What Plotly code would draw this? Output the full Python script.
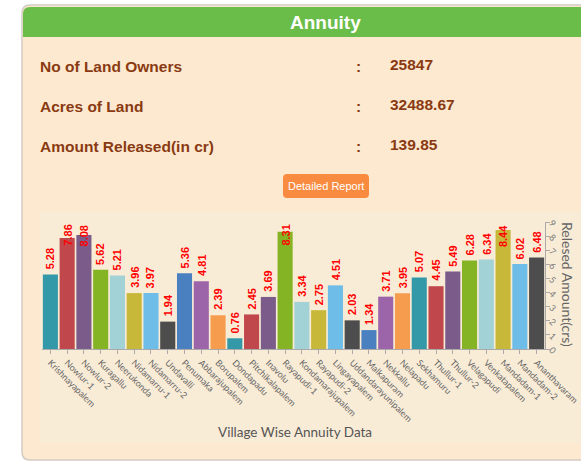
import plotly.graph_objects as go

# ---------------- data ----------------
villages = ["Krishnayapalem", "Nowlur-1", "Nowlur-2", "Kuragallu", "Neerukonda",
            "Nidamarru-1", "Nidamarru-2", "Undavalli", "Penumaka", "Abbarajupalem",
            "Borupalem", "Dondapadu", "Pitchikalapalem", "Inavolu", "Rayapudi-1",
            "Kondamarajupalem", "Rayapudi-2", "Lingayapalem", "Uddandarayunipalem",
            "Malkapuram", "Nekkallu", "Nelapadu", "Sekhamuru", "Thullur-1",
            "Thullur-2", "Velagapudi", "Venkatapalem", "Mandadam-1", "Mandadam-2",
            "Ananthavaram"]
amounts = [5.28, 7.86, 8.08, 5.62, 5.21, 3.96, 3.97, 1.94, 5.36, 4.81,
           2.39, 0.76, 2.45, 3.69, 8.31, 3.34, 2.75, 4.51, 2.03, 1.34,
           3.71, 3.95, 5.07, 4.45, 5.49, 6.28, 6.34, 8.44, 6.02, 6.48]
y_ticks = [0, 1, 2, 3, 4, 5, 6, 7, 8, 9]

info_labels = ["No of Land Owners", "Acres of Land", "Amount Released(in cr)"]
info_values = ["25847", "32488.67", "139.85"]

palette = ["#3399a8", "#c0474b", "#7b5b8a", "#84b423", "#a2d2d6", "#c8b83a",
           "#6ebde9", "#4d4d4d", "#4a80c0", "#9c64a9", "#f69c4f"]
bar_colors = [palette[i % len(palette)] for i in range(len(villages))]

# ---------------- layout geometry (page pixels) ----------------
W, H = 581, 461
PLOT_L, PLOT_R, PLOT_T, PLOT_B = 42, 545, 222, 349
L, T = PLOT_L, PLOT_T
R = W - PLOT_R
B = H - PLOT_B
PW = PLOT_R - PLOT_L
PH = PLOT_B - PLOT_T


def fx(px):
    return (px - PLOT_L) / PW


def fy(py):
    return (PLOT_B - py) / PH


def rrect(x0, y0, x1, y1, r, top_only=False):
    if top_only:
        return (f"M {fx(x0)},{fy(y1)} L {fx(x0)},{fy(y0 + r)} "
                f"Q {fx(x0)},{fy(y0)} {fx(x0 + r)},{fy(y0)} "
                f"L {fx(x1 - r)},{fy(y0)} Q {fx(x1)},{fy(y0)} {fx(x1)},{fy(y0 + r)} "
                f"L {fx(x1)},{fy(y1)} Z")
    return (f"M {fx(x0 + r)},{fy(y0)} L {fx(x1 - r)},{fy(y0)} "
            f"Q {fx(x1)},{fy(y0)} {fx(x1)},{fy(y0 + r)} "
            f"L {fx(x1)},{fy(y1 - r)} Q {fx(x1)},{fy(y1)} {fx(x1 - r)},{fy(y1)} "
            f"L {fx(x0 + r)},{fy(y1)} Q {fx(x0)},{fy(y1)} {fx(x0)},{fy(y1 - r)} "
            f"L {fx(x0)},{fy(y0 + r)} Q {fx(x0)},{fy(y0)} {fx(x0 + r)},{fy(y0)} Z")


fig = go.Figure()
fig.add_trace(go.Bar(
    x=villages, y=amounts,
    marker=dict(color=bar_colors, line=dict(width=0)),
    hoverinfo="x+y",
))

shapes = [
    dict(type="path", path=rrect(22, 5, 660, 460, 8), xref="paper", yref="paper",
         fillcolor="#fde9d0", line=dict(color="#d3cbc3", width=1.5), layer="below"),
    dict(type="path", path=rrect(23, 7, 660, 37, 7, top_only=True), xref="paper", yref="paper",
         fillcolor="#69bd48", line=dict(width=0), layer="below"),
    dict(type="rect", x0=fx(40), x1=fx(660), y0=fy(443), y1=fy(212), xref="paper", yref="paper",
         fillcolor="#f9ecd7", line=dict(width=0), layer="below"),
    dict(type="path", path=rrect(283, 174, 369, 198, 4), xref="paper", yref="paper",
         fillcolor="#f88b40", line=dict(width=0), layer="below"),
]

ann = []
HDR = "Liberation Sans, Arial, sans-serif"
CHART_FONT = "Lato, Open Sans, sans-serif"


def page_text(text, px, py, size, color, family=HDR, xanchor="center", angle=0):
    return dict(text=text, x=fx(px), y=fy(py), xref="paper", yref="paper",
                xanchor=xanchor, yanchor="middle", textangle=angle, showarrow=False,
                font=dict(family=family, size=size, color=color))


ann.append(page_text("<b>Annuity</b>", 325, 22, 19, "white"))
row_y = [66, 106, 146]
for lab, val, yy in zip(info_labels, info_values, row_y):
    ann.append(page_text(f"<b>{lab}</b>", 38, yy, 15.5, "#8a3a12", xanchor="left"))
    ann.append(page_text("<b>:</b>", 358, yy, 15.5, "#8a3a12"))
    ann.append(page_text(f"<b>{val}</b>", 388, yy - 2, 15.5, "#8a3a12", xanchor="left"))
ann.append(page_text("Detailed Report", 326, 186, 11, "white"))

# value labels
top_limit = 7.2
for v_name, v in zip(villages, amounts):
    if v > top_limit:
        ann.append(dict(text=f"<b>{v:.2f}</b>", x=v_name, y=y_ticks[-1], xref="x", yref="y",
                        xanchor="center", yanchor="top", textangle=-90, showarrow=False, yshift=-1,
                        font=dict(family=HDR, size=11, color="#ff0000")))
    else:
        ann.append(dict(text=f"<b>{v:.2f}</b>", x=v_name, y=v, xref="x", yref="y",
                        xanchor="center", yanchor="bottom", textangle=-90, showarrow=False, yshift=3,
                        font=dict(family=HDR, size=11, color="#ff0000")))

ann.append(page_text("Relesed Amount(crs)", 568, 284, 14, "#666666", family=CHART_FONT, angle=90))
ann.append(page_text("Village Wise Annuity Data", 295, 432, 13.5, "#555555", family=CHART_FONT))

fig.update_layout(
    width=W, height=H,
    margin=dict(l=L, r=R, t=T, b=B, pad=0, autoexpand=False),
    paper_bgcolor="white",
    plot_bgcolor="rgba(0,0,0,0)",
    bargap=0.1,
    showlegend=False,
    shapes=shapes,
    annotations=ann,
    xaxis=dict(
        type="category", showgrid=False, zeroline=False, automargin=False,
        showline=True, linecolor="#aaaaaa", linewidth=1,
        ticks="outside", ticklen=4, tickcolor="#aaaaaa",
        tickangle=45, tickfont=dict(family=CHART_FONT, size=9, color="#666666"),
        range=[-0.5, len(villages) - 0.5],
    ),
    yaxis=dict(
        side="right", range=[0, 9], tickvals=y_ticks, showgrid=False, zeroline=False,
        automargin=False,
        showline=True, linecolor="#aaaaaa", linewidth=1,
        ticks="outside", ticklen=4, tickcolor="#aaaaaa",
        tickangle=45, tickfont=dict(family=CHART_FONT, size=9, color="#777777"),
    ),
)

fig.write_html("out.html", config={"displayModeBar": False},
               post_script="document.body.style.margin='0';document.body.style.overflow='hidden';")
